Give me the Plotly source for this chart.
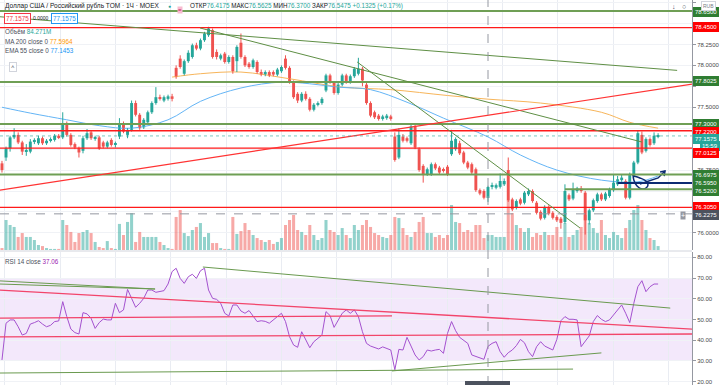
import plotly.graph_objects as go

# ---------------- data ----------------
opens = [76.83,76.90,77.01,77.14,77.17,77.08,76.97,76.97,77.09,77.07,
         77.13,77.07,77.10,77.11,77.16,77.14,77.31,77.17,77.06,77.01,
         76.98,77.13,77.20,77.13,77.14,77.08,77.03,77.11,77.05,77.15,
         77.31,77.17,77.23,77.55,77.41,77.26,77.32,77.44,77.55,77.62,
         77.58,77.60,77.63,77.97,78.08,77.90,78.05,78.10,78.24,78.20,
         78.30,78.36,78.42,78.16,78.08,78.14,78.04,78.10,78.05,78.27,
         78.10,78.02,77.98,78.04,77.92,77.89,77.92,77.92,77.89,77.93,
         78.08,77.97,77.80,77.66,77.58,77.66,77.60,77.47,77.53,77.55,
         77.70,77.88,77.79,77.67,77.77,77.88,77.80,77.87,77.90,77.96,
         77.77,77.55,77.44,77.40,77.36,77.37,77.39,77.15,76.90,77.15,
         77.13,77.07,77.27,77.00,76.80,76.70,76.70,76.82,76.78,76.76,
         76.79,76.94,77.00,77.07,76.96,76.84,76.82,76.76,76.51,76.50,
         76.4175,76.55,76.54,76.55,76.58,76.75,76.40,76.30,76.40,76.36,
         76.46,76.50,76.36,76.25,76.18,76.31,76.24,76.19,76.17,76.13,
         76.45,76.41,76.50,76.53,76.48,76.15,76.27,76.38,76.46,76.40,
         76.44,76.51,76.58,76.63,76.62,76.42,76.68,76.84,77.17,76.98,
         77.12,77.07,77.155]
highs = [76.86,77.03,77.16,77.25,77.20,77.10,77.06,77.12,77.13,77.16,
         77.15,77.12,77.14,77.18,77.18,77.44,77.33,77.19,77.08,77.03,
         77.16,77.24,77.22,77.16,77.16,77.10,77.10,77.13,77.09,77.37,
         77.33,77.25,77.58,77.58,77.43,77.37,77.46,77.57,77.74,77.65,
         77.64,77.65,77.66,78.00,78.12,78.07,78.18,78.26,78.27,78.32,
         78.40,78.46,78.44,78.19,78.14,78.16,78.12,78.12,78.24,78.38,
         78.12,78.04,78.08,78.06,77.95,77.94,77.94,77.94,77.97,78.00,
         78.12,77.99,77.82,77.68,77.68,77.69,77.62,77.55,77.57,77.62,
         77.90,77.90,77.81,77.79,77.90,77.90,77.89,77.98,78.09,77.98,
         77.79,77.57,77.46,77.42,77.41,77.42,77.41,77.20,77.25,77.18,
         77.15,77.31,77.29,77.02,76.82,76.78,76.84,76.84,76.80,76.78,
         76.81,77.23,77.14,77.10,76.98,76.86,76.84,76.78,76.53,76.52,
         76.5625,76.60,76.59,76.71,76.65,76.90,76.42,76.40,76.42,76.50,
         76.53,76.52,76.38,76.27,76.33,76.33,76.26,76.21,76.19,76.58,
         76.47,76.60,76.55,76.56,76.50,76.29,76.41,76.48,76.48,76.49,
         76.54,76.70,76.68,76.70,76.64,76.72,76.86,77.22,77.21,77.14,
         77.14,77.20,77.19]
lows = [76.72,76.86,76.97,77.12,77.06,76.93,76.92,76.95,77.06,77.05,
        77.05,77.05,77.08,77.09,77.12,77.12,77.15,77.03,77.00,76.90,
        76.95,77.11,77.11,77.10,76.99,77.01,77.01,77.03,77.02,77.12,
        77.19,77.13,77.21,77.39,77.23,77.24,77.30,77.42,77.53,77.58,
        77.56,77.58,77.57,77.84,77.96,77.88,78.03,78.08,78.18,78.18,
        78.28,78.34,78.08,78.07,78.06,78.02,78.02,77.90,77.92,78.08,
        77.98,77.96,77.96,77.90,77.87,77.87,77.86,77.87,77.87,77.91,
        77.95,77.78,77.60,77.55,77.56,77.58,77.45,77.45,77.51,77.53,
        77.68,77.78,77.65,77.65,77.75,77.78,77.78,77.85,77.88,77.75,
        77.53,77.38,77.36,77.34,77.34,77.35,77.34,76.85,76.88,77.08,
        77.08,77.05,77.00,76.73,76.60,76.68,76.68,76.75,76.70,76.72,
        76.68,76.92,76.98,76.93,76.82,76.76,76.70,76.49,76.45,76.40,
        76.37,76.52,76.52,76.53,76.56,76.37,76.26,76.28,76.33,76.34,
        76.44,76.36,76.22,76.15,76.16,76.21,76.16,76.13,76.05,76.11,
        76.38,76.39,76.48,76.48,75.98,76.10,76.25,76.36,76.38,76.38,
        76.42,76.49,76.56,76.61,76.40,76.40,76.66,76.82,76.94,76.96,
        77.03,77.05,77.13]
closes = [76.75,77.01,77.14,77.17,77.08,76.97,76.99,77.09,77.11,77.13,
          77.07,77.10,77.12,77.16,77.14,77.31,77.17,77.05,77.02,76.96,
          77.13,77.19,77.13,77.14,77.01,77.03,77.08,77.05,77.07,77.31,
          77.21,77.23,77.55,77.41,77.25,77.35,77.44,77.55,77.62,77.60,
          77.62,77.63,77.60,77.86,77.98,78.05,78.15,78.24,78.20,78.30,
          78.38,78.44,78.10,78.10,78.12,78.04,78.10,77.93,78.22,78.10,
          78.00,77.98,78.06,77.92,77.89,77.92,77.88,77.89,77.95,77.98,
          77.97,77.80,77.62,77.58,77.66,77.60,77.47,77.53,77.55,77.60,
          77.88,77.80,77.67,77.77,77.88,77.80,77.87,77.96,77.96,77.82,
          77.55,77.40,77.38,77.36,77.39,77.40,77.36,76.87,77.17,77.10,
          77.10,77.27,77.02,76.75,76.69,76.76,76.82,76.77,76.72,76.74,
          76.70,77.10,77.12,76.95,76.84,76.78,76.72,76.51,76.47,76.42,
          76.5475,76.56,76.57,76.62,76.62,76.39,76.28,76.38,76.35,76.48,
          76.50,76.38,76.24,76.17,76.31,76.23,76.18,76.15,76.12,76.50,
          76.40,76.52,76.53,76.50,76.15,76.27,76.39,76.46,76.40,76.47,
          76.52,76.60,76.64,76.66,76.42,76.69,76.84,77.19,76.96,77.12,
          77.05,77.16,77.1575]
volumes_m = [11,168,140,129,73,95,73,73,56,28,
             22,11,6,6,6,168,140,101,45,95,
             101,112,95,45,17,11,50,11,6,146,
             84,157,207,45,101,73,73,73,73,45,
             28,11,6,185,224,95,78,112,129,151,
             73,95,39,39,11,6,6,185,90,106,
             151,112,84,67,56,45,56,34,45,67,
             140,168,196,112,101,84,140,84,56,67,
             168,112,101,84,123,84,67,140,112,140,
             168,129,95,84,73,67,84,185,179,123,
             84,73,101,157,185,95,95,73,84,67,
             84,252,157,151,101,112,101,140,140,67,
             84.271,84,73,73,73,280,207,140,123,101,
             123,73,95,84,101,84,84,129,73,151,
             73,84,112,129,196,151,123,95,168,84,
             67,101,84,67,123,168,224,252,168,112,
             67,56,22]
rsi = [30.5,48.2,49.8,49.8,46.5,42.5,43.3,47.8,48.5,49.4,
       47.8,46.5,47.2,49.0,49.3,58.6,51.4,45.4,43.7,43.0,
       53.3,52.7,50.6,45.7,48.5,50.2,49.8,49.8,57.8,53.3,
       54.6,64.5,60.2,55.9,57.8,60.2,64.2,64.2,63.1,63.4,
       63.9,67.1,73.1,74.7,69.8,67.4,70.6,71.8,69.8,73.5,
       74.7,64.2,60.2,59.7,57.8,53.0,51.7,57.0,57.0,54.1,
       53.0,54.3,51.4,49.0,49.4,49.1,48.2,49.8,51.7,53.0,
       49.0,41.7,37.7,36.6,44.1,40.4,36.4,39.3,40.8,42.5,
       53.8,51.9,46.2,49.4,53.0,54.6,53.0,54.6,51.4,44.1,
       38.5,37.2,36.6,35.8,36.8,36.1,35.3,25.8,35.6,35.3,
       41.4,37.2,32.9,30.5,32.1,35.3,34.8,35.3,35.6,33.7,
       43.3,49.0,44.6,41.4,40.1,38.5,32.9,32.1,31.3,30.8,
       37.06,38.5,39.3,34.5,31.8,34.0,35.3,37.4,40.4,38.8,
       34.5,32.1,36.9,39.3,37.2,36.4,35.3,40.4,49.4,51.4,
       50.1,50.1,49.8,36.9,39.3,42.1,49.0,51.9,50.1,49.0,
       49.8,52.2,54.3,57.0,53.0,48.5,57.8,65.8,68.7,63.4,
       65.8,67.1,67.1]
ma200_idx = [42, 49, 59, 71, 84, 96, 110, 120, 133, 148, 155, 162]
ma200_val = [77.86, 77.90, 77.92, 77.84, 77.74, 77.71, 77.64, 77.5964, 77.55, 77.44, 77.32, 77.25]
ema55_idx = [0, 7, 16, 24, 32, 41, 49, 59, 69, 76, 83, 91, 100, 109, 120, 128, 137, 148, 157, 162]
ema55_val = [77.50, 77.43, 77.35, 77.28, 77.25, 77.35, 77.57, 77.73, 77.80, 77.78,
             77.74, 77.71, 77.56, 77.37, 77.1453, 76.93, 76.75, 76.63, 76.61, 76.68]

red_levels = [78.45, 77.22, 77.0125, 76.305]
green_levels = [78.65, 77.8025, 77.30, 76.6975]
green_short_level = 76.52
green_short_start = 139
navy_level = 76.595
navy_start = 152
last_price = 77.1575
cross_idx = 120
cross_price = 76.2275

# drawn trend lines (x0, y0, x1, y1)
price_green_lines = [(-0.5, 78.58, 166.7, 77.94), (48.9, 78.446, 158.0, 77.085), (87.7, 78.04, 142.7, 76.06)]
price_red_lines = [(-0.5, 76.51, 170.4, 77.777)]
rsi_green_lines = [(-0.5, 68.6, 37.8, 64.7), (-0.5, 67.1, 37.8, 64.7), (49.6, 75.3, 165.0, 55.5),
                   (-0.5, 24.2, 141.0, 26.1), (96.3, 25.2, 148.0, 33.9)]
rsi_red_lines = [(-0.5, 64.2, 170.4, 45.4), (-0.5, 50.7, 96.3, 51.7), (-0.5, 41.6, 170.4, 43.0)]
doodle_x = [155.8, 156.0, 156.8, 158.0, 159.0, 159.5, 159.0, 157.5, 156.0]
doodle_y = [76.703, 76.632, 76.560, 76.524, 76.536, 76.572, 76.620, 76.656, 76.679]
arrow_x = [157.5, 162.0, 163.7]
arrow_y = [76.584, 76.656, 76.739]
arrowhead_x = [162.5, 163.7, 163.5]
arrowhead_y = [76.727, 76.739, 76.679]

# ---------------- figure ----------------
UP = '#26a69a'
DN = '#ef5350'
N = len(closes)
idx = list(range(N))
XR = [-0.49, 170.37]
PR = [75.796, 78.78]
RR = [18.43, 82.53]
FONT = 'Liberation Sans, Arial, sans-serif'

def py(p):
    return 1 - p / 385.0

def px(p):
    return p / 692.0

is_up = [c >= o for o, c in zip(opens, closes)]
vol_colors = ['rgba(38,166,154,0.5)' if u else 'rgba(239,83,80,0.5)' for u in is_up]
body_colors = [UP if u else DN for u in is_up]
body_base = [min(o, c) for o, c in zip(opens, closes)]
body_len = [max(abs(c - o), 0.012) for o, c in zip(opens, closes)]

fig = go.Figure()
fig.add_trace(go.Bar(x=idx, y=volumes_m, marker=dict(color=vol_colors, line=dict(width=0)),
                     width=0.75, xaxis='x', yaxis='y', hoverinfo='skip', showlegend=False))
fig.add_trace(go.Scatter(x=ma200_idx, y=ma200_val, mode='lines', yaxis='y3',
                         line=dict(color='#f7b55a', width=1, shape='spline'), showlegend=False))
fig.add_trace(go.Scatter(x=ema55_idx, y=ema55_val, mode='lines', yaxis='y3',
                         line=dict(color='#64b5f6', width=1, shape='spline'), showlegend=False))
# candle wicks, one trace per colour
for want, col in ((True, UP), (False, DN)):
    wx, wy = [], []
    for i in idx:
        if is_up[i] == want:
            wx += [i, i, None]
            wy += [lows[i], highs[i], None]
    fig.add_trace(go.Scatter(x=wx, y=wy, mode='lines', yaxis='y3', line=dict(color=col, width=1),
                             hoverinfo='skip', showlegend=False))
# candle bodies
fig.add_trace(go.Bar(x=idx, y=body_len, base=body_base, yaxis='y3', width=0.72,
                     marker=dict(color=body_colors, line=dict(width=0)), hoverinfo='skip', showlegend=False))
fig.add_trace(go.Scatter(x=idx, y=rsi, mode='lines', yaxis='y2',
                         line=dict(color='#a452cf', width=1), showlegend=False))
# hand-drawn navy marks
fig.add_trace(go.Scatter(x=doodle_x, y=doodle_y, mode='lines', yaxis='y3',
                         line=dict(color='#0d2b73', width=1.5, shape='spline'), showlegend=False))
fig.add_trace(go.Scatter(x=arrow_x, y=arrow_y, mode='lines', yaxis='y3',
                         line=dict(color='#0d2b73', width=1.5), showlegend=False))
fig.add_trace(go.Scatter(x=arrowhead_x, y=arrowhead_y, mode='lines', yaxis='y3',
                         line=dict(color='#0d2b73', width=1.5), showlegend=False))

shapes = []
shapes.append(dict(type='rect', xref='x', yref='y2', x0=XR[0], x1=XR[1], y0=30, y1=70,
                   fillcolor='#f3e8fb', line=dict(width=0), layer='below'))
shapes.append(dict(type='line', xref='paper', yref='paper', x0=0, x1=1, y0=py(251), y1=py(251),
                   line=dict(color='#d1d4dc', width=1)))
for lv in green_levels:
    shapes.append(dict(type='line', xref='x', yref='y3', x0=XR[0], x1=XR[1], y0=lv, y1=lv,
                       line=dict(color='#6f9f55', width=2)))
shapes.append(dict(type='line', xref='x', yref='y3', x0=green_short_start, x1=XR[1],
                   y0=green_short_level, y1=green_short_level, line=dict(color='#6f9f55', width=2)))
for lv in red_levels:
    shapes.append(dict(type='line', xref='x', yref='y3', x0=XR[0], x1=XR[1], y0=lv, y1=lv,
                       line=dict(color='#ff1a1a', width=1.4)))
shapes.append(dict(type='line', xref='x', yref='y3', x0=navy_start, x1=XR[1], y0=navy_level, y1=navy_level,
                   line=dict(color='#0d2b73', width=2)))
for (a, b, c, d) in price_green_lines:
    shapes.append(dict(type='line', xref='x', yref='y3', x0=a, y0=b, x1=c, y1=d,
                       line=dict(color='#5f8f45', width=1)))
for (a, b, c, d) in price_red_lines:
    shapes.append(dict(type='line', xref='x', yref='y3', x0=a, y0=b, x1=c, y1=d,
                       line=dict(color='#ff3333', width=1.2)))
for (a, b, c, d) in rsi_green_lines:
    shapes.append(dict(type='line', xref='x', yref='y2', x0=a, y0=b, x1=c, y1=d,
                       line=dict(color='#6a9a4f', width=1)))
for (a, b, c, d) in rsi_red_lines:
    shapes.append(dict(type='line', xref='x', yref='y2', x0=a, y0=b, x1=c, y1=d,
                       line=dict(color='#f2456a', width=1.3)))
shapes.append(dict(type='line', xref='x', yref='y3', x0=XR[0], x1=XR[1], y0=last_price, y1=last_price,
                   line=dict(color='rgba(38,166,154,0.6)', width=1, dash='dot')))
shapes.append(dict(type='line', xref='x', yref='paper', x0=cross_idx, x1=cross_idx, y0=0, y1=1,
                   line=dict(color='#9598a1', width=1, dash='dash')))
shapes.append(dict(type='line', xref='x', yref='y3', x0=XR[0], x1=XR[1], y0=cross_price, y1=cross_price,
                   line=dict(color='#9598a1', width=1, dash='dash')))
shapes.append(dict(type='rect', xref='paper', yref='paper', x0=px(465), x1=px(510), y0=0, y1=py(381),
                   fillcolor='#4c525e', line=dict(width=0)))

ann = []
def label(text, ypix, bg, fg='white', bd=None, xs=1, size=6):
    ann.append(dict(text=text, xref='paper', yref='paper', x=1, y=py(ypix), xanchor='left',
                    yanchor='middle', xshift=xs, showarrow=False, bgcolor=bg,
                    bordercolor=bd or bg, borderwidth=1, borderpad=1,
                    font=dict(color=fg, size=size, family=FONT)))

G = '#2f7d32'
R = '#ff0000'
label('78.6500', 12, G)
label('RUB', 6, '#ffffff', fg='#787b86', bd='#d1d4dc', xs=9, size=5)
label('78.4500', 27, R)
label('77.8025', 81, G)
label('77.3000', 124, G)
label('77.2200', 132, R)
label('77.1575', 139, UP)
label('15:59', 146, UP, xs=8)
label('77.0125', 153, R)
label('76.6975', 175, G)
label('76.5950', 183, G)
label('76.5200', 191, G)
label('76.3050', 207, R)
label('76.2275', 215, '#4c525e')
ann.append(dict(text='+', xref='paper', yref='paper', x=px(686), y=py(215), showarrow=False,
                bgcolor='#9598a1', font=dict(color='white', size=7, family=FONT), borderpad=0))

def txt(text, xpix, ypix, size=6.5, color='#131722'):
    ann.append(dict(text=text, xref='paper', yref='paper', x=px(xpix), y=py(ypix), xanchor='left',
                    yanchor='middle', showarrow=False, font=dict(color=color, size=size, family=FONT)))

def sp(t, c):
    return '<span style="color:%s">%s</span>' % (c, t)

txt('Доллар США / Российский рубль TOM · 1Ч · MOEX', 3, 6, size=6.5, color='#131722')
txt(sp('●', UP), 166, 6, size=5)
ann.append(dict(text='=', xref='paper', yref='paper', x=px(177), y=py(6), showarrow=False,
                bgcolor='#f8bbd0', font=dict(color='#c2185b', size=6, family=FONT), borderpad=0))
txt('ОТКР' + sp('76.4175', UP) + ' МАКС' + sp('76.5625', UP) + ' МИН' + sp('76.3700', UP) +
    ' ЗАКР' + sp('76.5475', UP) + ' ' + sp('+0.1325 (+0.17%)', UP), 188, 6, size=6.3)
ann.append(dict(text='77.1575', xref='paper', yref='paper', x=px(4), y=py(18), xanchor='left', yanchor='middle',
                showarrow=False, bgcolor='white', bordercolor='#f23645', borderwidth=1, borderpad=1,
                font=dict(color='#f23645', size=6.3, family=FONT)))
txt('0.0000', 31, 18, size=5, color='#131722')
ann.append(dict(text='77.1575', xref='paper', yref='paper', x=px(51), y=py(18), xanchor='left', yanchor='middle',
                showarrow=False, bgcolor='white', bordercolor='#2196f3', borderwidth=1, borderpad=1,
                font=dict(color='#2196f3', size=6.3, family=FONT)))
txt('Объём ' + sp('84.271M', UP), 3, 31, size=6.3, color='#4a4f5c')
txt('MA 200 close 0 ' + sp('77.5964', '#ff9800'), 3, 41, size=6.3, color='#4a4f5c')
txt('EMA 55 close 0 ' + sp('77.1453', '#2196f3'), 3, 51, size=6.3, color='#4a4f5c')
ann.append(dict(text='˄', xref='paper', yref='paper', x=px(9), y=py(62), showarrow=False,
                bgcolor='white', bordercolor='#d1d4dc', borderwidth=1, borderpad=1,
                font=dict(color='#4a4f5c', size=6, family=FONT)))
txt('RSI 14 close ' + sp('37.06', '#9c27b0'), 3, 261, size=6.3, color='#4a4f5c')
txt('↓', 670, 6, size=7, color='#4a4f5c')
txt('○', 680, 6, size=7, color='#4a4f5c')

price_ticks = [78.75, 78.5, 78.25, 78.0, 77.75, 77.5, 77.25, 77.0, 76.75, 76.5, 76.25, 76.0]
price_text = ['', '', '78.2500', '78.0000', '', '77.5000', '', '', '76.7500', '', '', '76.0000']
grid_x = [0.74 + 13.65 * k for k in range(13)]

fig.update_layout(
    width=720, height=385, margin=dict(l=0, r=28, t=0, b=0),
    paper_bgcolor='white', plot_bgcolor='white', showlegend=False, hovermode=False,
    barmode='overlay',
    font=dict(family=FONT, size=6, color='#4a4a4a'),
    xaxis=dict(domain=[0, 1], range=XR, anchor='y2', showticklabels=False, tickvals=grid_x,
               showgrid=True, gridcolor='#e9ecf2', gridwidth=1, zeroline=False, ticks='',
               showline=False),
    yaxis=dict(domain=[1 - 250 / 385.0, 1], range=[0, 1400], visible=False, showgrid=False),
    yaxis3=dict(overlaying='y', anchor='x', side='right', range=PR, tickvals=price_ticks,
                ticktext=price_text, showgrid=True, gridcolor='#f0f2f6', zeroline=False,
                ticks='outside', ticklen=3, tickcolor='#9598a1', showline=True, linecolor='#9598a1',
                linewidth=1, tickfont=dict(size=6, color='#4a4a4a')),
    yaxis2=dict(domain=[0, 1 - 252 / 385.0], anchor='x', side='right', range=RR,
                tickvals=[20, 30, 40, 50, 60, 70, 80], tickformat='.2f', showgrid=True,
                gridcolor='#f0f2f6', zeroline=False, ticks='outside', ticklen=3, tickcolor='#9598a1',
                showline=True, linecolor='#9598a1', linewidth=1, tickfont=dict(size=6, color='#4a4a4a')),
    shapes=shapes, annotations=ann,
)

fig.write_html('out.html', config={'displayModeBar': False},
               post_script="document.body.style.margin='0';document.body.style.overflow='hidden';")
